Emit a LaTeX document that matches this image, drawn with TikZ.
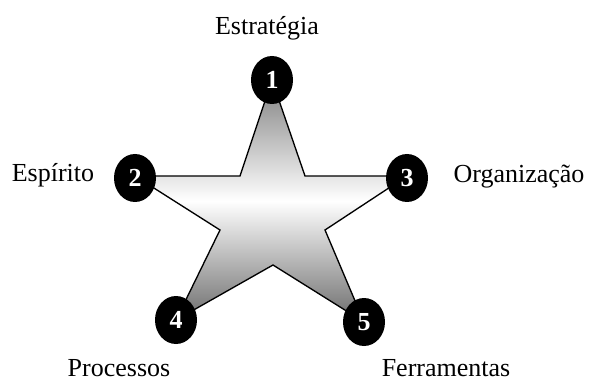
\documentclass[tikz,border=0pt]{standalone}
\usepackage{fontspec}
\setmainfont{Liberation Serif}
\usetikzlibrary{shapes.geometric}
\begin{document}
\begin{tikzpicture}[x=0.75pt,y=-0.75pt,
  dot/.style={ellipse,fill=black,minimum width=42*0.75pt,minimum height=48*0.75pt,inner sep=0pt,
    text=white,font=\fontsize{19.5}{23}\selectfont\bfseries},
  lbl/.style={anchor=base,inner sep=0pt,font=\fontsize{19.5}{23}\selectfont},
  starfill/.style={line width=1pt,line join=miter,top color=black!50,bottom color=black!58,middle color=white}]
\useasboundingbox (0,0) rectangle (589,381);
% star vertices
\coordinate (p1) at (272,80);
\coordinate (q1) at (305,176);
\coordinate (p3) at (407,176);
\coordinate (q2) at (325,230);
\coordinate (p5) at (364,322);
\coordinate (q3) at (273,265);
\coordinate (p4) at (176,320);
\coordinate (q4) at (220,230);
\coordinate (p2) at (135,176);
\coordinate (q5) at (240,176);
\draw[starfill]
  (p1) -- (q1) -- (p3) -- (q2) -- (p5) -- (q3) -- (p4) -- (q4) -- (p2) -- (q5) -- cycle;
% numbered circles
\node[dot] (n1) at (272,80) {1};
\node[dot] (n2) at (135,178) {2};
\node[dot] (n3) at (407,178) {3};
\node[dot] (n4) at (176,320) {4};
\node[dot] (n5) at (364,322) {5};
% labels
\node[lbl] (l1) at (267,35) {Estratégia};
\node[lbl] (l2) at (53,181) {Espírito};
\node[lbl] (l3) at (519,183) {Organização};
\node[lbl] (l4) at (119,376) {Processos};
\node[lbl] (l5) at (446,376) {Ferramentas};
\end{tikzpicture}
\end{document}
